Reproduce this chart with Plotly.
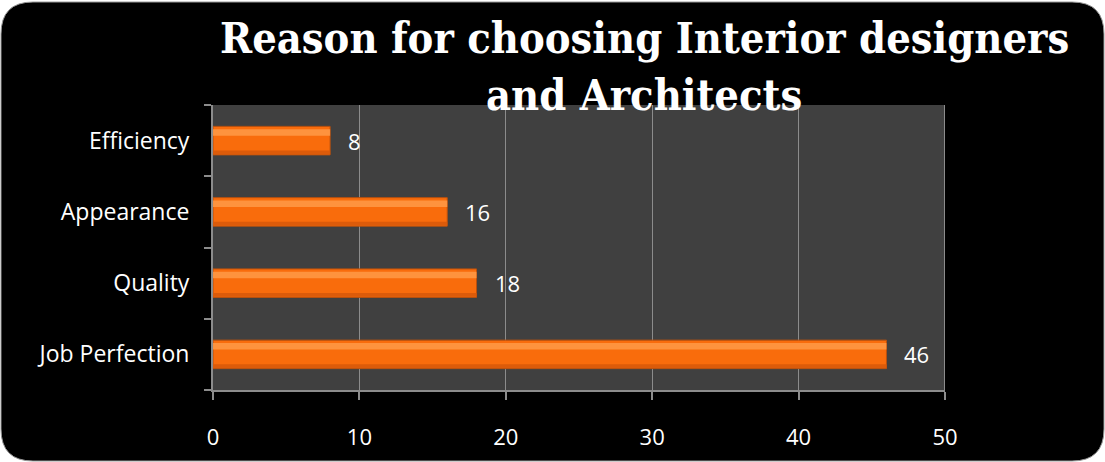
import plotly.graph_objects as go

categories = ["Job Perfection", "Quality", "Appearance", "Efficiency"]
values = [46, 18, 16, 8]
x_ticks = [0, 10, 20, 30, 40, 50]
title_line1 = "Reason for choosing Interior designers"
title_line2 = "and Architects"

W, H = 1105, 462
L, R, T, B = 213, 160, 105, 72
pw, ph = W - L - R, H - T - B

def px(x):
    return (x - L) / pw

def py(y):
    return (H - B - y) / ph

fig = go.Figure()

fig.add_trace(go.Bar(
    y=categories, x=values, orientation="h",
    width=0.4, offset=-0.2,
    marker=dict(color="#F96C0C", line=dict(color="#B9500E", width=1)),
    hoverinfo="skip", showlegend=False,
))
fig.add_trace(go.Bar(
    y=categories, x=values, orientation="h",
    width=0.09, offset=0.07,
    marker=dict(color="#FF9A48", line=dict(width=0), opacity=0.85),
    hoverinfo="skip", showlegend=False,
))
fig.add_trace(go.Bar(
    y=categories, x=values, orientation="h",
    width=0.05, offset=-0.19,
    marker=dict(color="#D85A0A", line=dict(width=0), opacity=0.9),
    hoverinfo="skip", showlegend=False,
))

annotations = []
for c, v in zip(categories, values):
    annotations.append(dict(
        x=v, y=c, xref="x", yref="y", text=str(v), showarrow=False,
        xanchor="left", yanchor="middle", xshift=16,
        font=dict(family="Open Sans", size=22, color="white"),
    ))

title_font = dict(family="DejaVu Serif Condensed", size=43, color="white", weight="bold")
annotations.append(dict(
    x=px(644), y=py(38), xref="paper", yref="paper", text=title_line1,
    showarrow=False, xanchor="center", yanchor="middle", font=title_font,
))
annotations.append(dict(
    x=px(644), y=py(95), xref="paper", yref="paper", text=title_line2,
    showarrow=False, xanchor="center", yanchor="middle", font=title_font,
))

x0, x1, y0, y1 = px(1), px(1104), py(461), py(2)
rx = 32 / pw
ry = 32 / ph
path = (
    f"M {x0+rx},{y1} L {x1-rx},{y1} Q {x1},{y1} {x1},{y1-ry} "
    f"L {x1},{y0+ry} Q {x1},{y0} {x1-rx},{y0} "
    f"L {x0+rx},{y0} Q {x0},{y0} {x0},{y0+ry} "
    f"L {x0},{y1-ry} Q {x0},{y1} {x0+rx},{y1} Z"
)

fig.update_layout(
    width=W, height=H,
    margin=dict(l=L, r=R, t=T, b=B),
    paper_bgcolor="white",
    plot_bgcolor="#404040",
    barmode="overlay",
    showlegend=False,
    annotations=annotations,
    shapes=[
        dict(type="path", path=path, xref="paper", yref="paper",
             fillcolor="black", line=dict(color="#999999", width=1),
             layer="below"),
        dict(type="rect", xref="paper", yref="paper", x0=0, x1=1, y0=0, y1=1,
             fillcolor="#404040", line=dict(width=0), layer="below"),
    ],
    xaxis=dict(
        range=[0, 50], tickvals=x_ticks, ticktext=[str(t) for t in x_ticks],
        showgrid=True, gridcolor="#8C8C8C", gridwidth=1,
        showline=True, linecolor="#8C8C8C", linewidth=2, mirror=False,
        ticks="outside", ticklen=8, tickcolor="#8C8C8C", tickwidth=2,
        tickfont=dict(family="Open Sans", size=22, color="white"),
        ticklabelstandoff=19, zeroline=False, fixedrange=True,
    ),
    yaxis=dict(
        categoryorder="array", categoryarray=categories,
        showgrid=False, showline=True, linecolor="#8C8C8C", linewidth=2,
        ticks="outside", ticklen=7, tickcolor="#8C8C8C", tickwidth=2,
        tickson="boundaries",
        tickfont=dict(family="Open Sans", size=23, color="white"),
        ticklabelstandoff=17, fixedrange=True,
    ),
)

fig.add_shape(type="line", xref="x", yref="paper", x0=50, x1=50, y0=0, y1=1,
              line=dict(color="#8C8C8C", width=2))

fig.write_html("out.html")
